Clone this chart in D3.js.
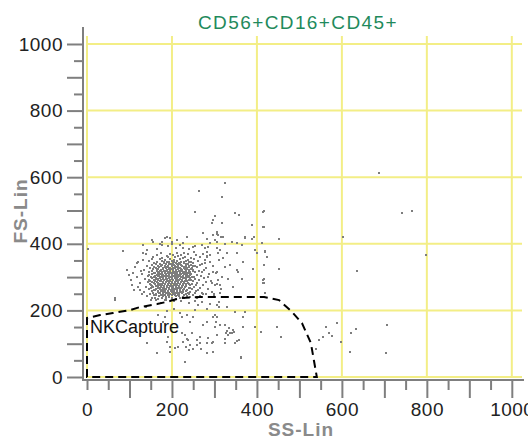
<!DOCTYPE html>
<html>
<head>
<meta charset="utf-8">
<script src="https://cdn.jsdelivr.net/npm/d3@7"></script>
<style>
  body { margin: 0; background: #ffffff; }
  svg { display: block; }
</style>
</head>
<body>
<div id="idChart"></div>
<script>
// ---- data (SS-Lin, FS-Lin channel values) ----
let chart_title = "CD56+CD16+CD45+";
let x_title = "SS-Lin";
let y_title = "FS-Lin";
let gate_name = "NKCapture";

let axis_max = 1024;
let label_ticks = [0, 200, 400, 600, 800, 1000];
let all_ticks = [0, 50, 100, 150, 200, 250, 300, 350, 400, 450, 500,
                 550, 600, 650, 700, 750, 800, 850, 900, 950, 1000];

// dense lymphocyte-like cluster
let core_events = [
  [175,372],[196,370],[213,373],[229,371],[251,374],[274,370],
  [164,366],[188,364],[203,367],[221,365],[237,368],[256,366],[283,363],
  [156,360],[177,358],[191,361],[208,359],[215,362],[230,360],[244,357],[265,361],
  [153,353],[171,355],[183,352],[196,354],[204,351],[219,353],[226,356],[238,352],[253,354],[277,351],
  [145,347],[165,345],[176,348],[188,346],[199,349],[211,347],[222,345],[233,348],[244,346],[262,349],[290,345],
  [158,341],[171,339],[181,342],[193,340],[202,343],[209,341],[218,339],[229,342],[238,340],[249,343],[271,339],
  [141,334],[153,336],[166,333],[175,335],[184,332],[191,334],[199,337],[207,333],[215,335],[224,332],[232,336],[241,334],[254,332],[266,335],[297,333],
  [149,328],[162,326],[170,329],[179,327],[187,330],[195,328],[203,326],[211,329],[218,327],[228,330],[236,328],[246,326],[259,329],[281,327],
  [135,321],[156,323],[165,320],[174,322],[182,319],[189,321],[196,324],[203,320],[210,322],[217,319],[224,321],[231,323],[239,320],[250,322],[263,319],[276,321],
  [146,315],[160,313],[169,316],[177,314],[185,317],[192,315],[199,313],[206,316],[213,314],[221,317],[228,315],[235,313],[243,316],[255,314],[270,316],[304,313],
  [129,308],[152,310],[164,307],[172,309],[180,306],[187,308],[194,311],[201,307],[208,309],[215,306],[222,308],[229,310],[236,307],[245,309],[258,306],[287,308],
  [143,302],[158,300],[167,303],[175,301],[183,304],[190,302],[197,300],[204,303],[211,301],[218,304],[225,302],[232,300],[240,303],[251,301],[268,303],
  [137,295],[154,297],[163,294],[171,296],[178,293],[185,295],[192,298],[199,294],[206,296],[213,293],[220,295],[227,297],[234,294],[242,296],[254,293],[275,296],
  [149,289],[160,287],[168,290],[175,288],[182,291],[189,289],[196,287],[203,290],[210,288],[217,291],[224,289],[231,287],[239,290],[249,288],[263,291],[293,288],
  [125,282],[144,284],[157,281],[166,283],[173,280],[180,282],[187,285],[194,281],[201,283],[208,280],[215,282],[222,284],[229,281],[237,283],[246,280],[260,282],[280,284],
  [151,276],[162,274],[170,277],[177,275],[184,278],[191,276],[198,274],[205,277],[212,275],[219,278],[226,276],[234,274],[243,277],[256,275],[272,277],
  [140,269],[156,271],[166,268],[174,270],[181,267],[188,269],[195,272],[202,268],[209,270],[216,267],[223,269],[230,271],[239,268],[252,270],[267,268],
  [147,263],[161,261],[171,264],[178,262],[185,265],[192,263],[199,261],[206,264],[213,262],[220,265],[228,263],[236,261],[247,264],[261,262],[285,264],
  [134,256],[154,258],[167,255],[175,257],[183,254],[190,256],[197,259],[204,255],[211,257],[218,254],[225,256],[233,258],[243,255],[257,257],
  [149,250],[163,248],[172,251],[180,249],[188,252],[195,250],[202,248],[209,251],[216,249],[224,252],[232,250],[241,248],[254,251],[273,249],
  [141,243],[158,245],[169,242],[178,244],[186,241],[194,243],[201,246],[209,242],[217,244],[225,241],[235,243],[249,245],[266,242],
  [153,237],[166,235],[176,238],[185,236],[193,239],[201,237],[210,235],[219,238],[229,236],[242,239],[260,237],
  [163,232],[183,231],[201,230],[222,229],[254,228]
];

// extra events in the solid centre of the cluster
let centre_events = [
  [181,345],[194,344],[205,346],[216,343],[228,345],[239,344],
  [162,338],[176,337],[187,339],[197,338],[205,336],[213,338],[221,337],[233,339],[244,337],
  [157,331],[174,332],[183,330],[191,331],[199,333],[207,331],[215,330],[223,332],[232,331],[241,330],[250,332],
  [166,325],[178,324],[186,326],[193,325],[200,324],[207,326],[214,325],[221,324],[228,326],[235,325],[244,324],
  [153,318],[165,317],[173,319],[181,318],[189,317],[196,319],[203,318],[210,317],[217,319],[224,318],[232,317],[240,318],[249,319],
  [157,312],[168,311],[176,313],[184,312],[191,311],[198,313],[205,312],[212,311],[219,313],[226,312],[233,311],[241,312],
  [147,305],[160,304],[169,306],[177,305],[185,304],[192,306],[199,305],[206,304],[213,306],[220,305],[227,304],[234,306],[243,305],
  [151,299],[163,298],[171,300],[179,299],[187,298],[194,300],[201,299],[208,298],[215,300],[222,299],[229,298],[237,300],[247,299],
  [145,292],[158,291],[167,293],[175,292],[182,291],[189,293],[196,292],[203,291],[210,293],[217,292],[224,291],[232,293],[245,292],
  [153,286],[164,285],[171,287],[179,286],[186,285],[193,287],[200,286],[207,285],[214,287],[221,286],[228,285],[236,287],
  [148,279],[160,278],[168,280],[176,279],[183,278],[190,280],[197,279],[204,278],[211,280],[218,279],[225,278],[233,280],[241,279],
  [154,273],[166,272],[174,274],[182,273],[189,272],[196,274],[203,273],[210,272],[217,274],[224,273],[232,272],
  [151,266],[163,265],[170,267],[178,266],[185,265],[192,267],[199,266],[206,265],[213,267],[221,266],[229,265],[242,266],
  [158,260],[168,259],[176,261],[184,260],[191,259],[198,261],[205,260],[212,259],[219,261],[227,260],
  [156,253],[169,252],[178,254],[186,253],[193,252],[200,254],[207,253],[214,252],[222,254],[237,253],
  [163,246],[174,247],[183,246],[191,247],[199,246],[207,247],[215,246],[228,247]
];

// sparser events around the cluster
let halo_events = [
  [112,330],[118,300],[103,290],[121,270],[130,250],[110,262],[126,318],[95,322],[132,352],[140,368],[120,345],
  [310,350],[318,300],[305,280],[325,330],[315,265],[300,250],[332,295],[290,365],[312,380],[285,390],[270,395],
  [160,238],[185,232],[260,240],[280,250],[300,245],
  [165,385],[190,392],[210,388],[240,385],[255,392],[200,400],[225,402],[172,398],
  [85,378],[66,237],[99,306],[108,312],[118,342],[106,276],[125,261],[132,372],[141,381],[155,405],
  [177,396],[184,417],[212,411],[219,396],[226,387],[235,420],[250,390],[2,384],[132,396],[153,411],[188,420],
  [297,426],[306,429],[315,420],[372,420],[393,420],[290,402],[306,405],[325,399],[365,396],
  [278,387],[282,375],[306,387],[308,372],[330,372],[353,372],[395,381],[400,372],[419,375],
  [282,360],[320,357],[367,345],[337,336],[391,324],[278,342],[297,315],[306,315],[353,321],[355,315],
  [285,300],[308,291],[365,294],[414,291],[414,282],[294,282],[301,276],[313,276],[344,270],
  [271,252],[294,255],[313,252],[271,225],
  [325,582],[264,558],[318,540],[254,495],[348,492],[358,486],[414,495],[301,483],[297,471],[294,462],
  [318,462],[388,456],[414,450],[273,432],[306,435],[308,426],[320,420],[282,414],[301,411],[341,405],
  [353,402],[372,417],[388,414],[412,402],[195,417],[200,405],[177,405],
  [417,498],[417,450],[417,336],[417,294],[417,282],[419,252],[419,378],[424,360],[452,324],[452,414],
  [603,420],[636,318],[687,612],[742,492],[765,498],[798,366]
];

// events in the lower (gated) region
let low_events = [
  [150,230],[175,222],[205,228],[240,222],[262,215],[290,218],[310,225],[330,210],[205,205],[255,200],[188,198],[140,210],
  [167,186],[184,180],[219,192],[224,180],[235,186],[250,180],[242,165],[179,165],[141,102],[165,72],
  [195,90],[195,75],[224,132],[231,126],[235,114],[226,105],[242,96],[233,90],[214,90],[188,105],
  [231,45],[250,84],[259,111],[247,132],[66,231],[344,141],[363,57],
  [306,216],[311,210],[282,204],[348,195],[372,195],[301,186],[297,180],[306,180],[367,180],
  [273,156],[282,165],[304,165],[301,150],[313,156],[325,156],[367,150],[395,150],[410,135],
  [447,150],[457,120],[330,138],[337,132],[341,132],[332,126],[306,126],[297,105],[282,102],
  [294,102],[325,114],[325,102],[348,102],[266,102],[268,84],[297,75],[282,72],[363,60],[266,120],[353,108],
  [563,150],[588,162],[633,144],[621,132],[570,132],[577,123],[556,120],[546,111],[598,105],
  [539,84],[619,75],[706,156],[704,72],
  [327,132],[334,147],[346,135],[358,111],[285,117],[259,96],[238,111],[240,81],[190,120],[207,87]
];

// NKCapture gate outline
let gate_vertices = [
  [0,0],[0,177],[31,186],[61,192],[101,201],[125,210],[165,219],[195,228],[219,237],
  [266,240],[417,240],[452,231],[483,195],[506,162],[527,102],[534,51],[541,0]
];
let gate_label_at = [7, 132];

// ---- drawing ----
let font_name = "'Liberation Sans', Arial, sans-serif";
let grid_color = "#f3ee86";
let axis_color = "#7f7f7f";
let dot_color = "#7d7d7d";

let svg_obj = d3.select("#idChart")
                .append("svg")
                  .attr("width", 528)
                  .attr("height", 439)
                  .attr("xmlns", "http://www.w3.org/2000/svg");

let x_scale = d3.scaleLinear().domain([0, axis_max]).range([87, 522]);
let y_scale = d3.scaleLinear().domain([0, axis_max]).range([377, 36]);

// grid
svg_obj.append("g")
  .selectAll("line")
  .data(label_ticks)
  .join("line")
    .attr("x1", d => x_scale(d))
    .attr("x2", d => x_scale(d))
    .attr("y1", y_scale(axis_max))
    .attr("y2", y_scale(0))
    .attr("stroke", grid_color)
    .attr("stroke-width", 2);

svg_obj.append("g")
  .selectAll("line")
  .data(label_ticks)
  .join("line")
    .attr("x1", x_scale(0))
    .attr("x2", x_scale(axis_max))
    .attr("y1", d => y_scale(d))
    .attr("y2", d => y_scale(d))
    .attr("stroke", grid_color)
    .attr("stroke-width", 2);

// events
let all_events = core_events.concat(centre_events, halo_events, low_events);
svg_obj.append("g")
  .selectAll("rect")
  .data(all_events)
  .join("rect")
    .attr("x", d => Math.round(x_scale(d[0])) - 1)
    .attr("y", d => Math.round(y_scale(d[1])) - 1)
    .attr("width", 2)
    .attr("height", 2)
    .attr("fill", dot_color);

// gate
let gate_line = d3.line()
                  .x(d => x_scale(d[0]))
                  .y(d => y_scale(d[1]));
svg_obj.append("path")
  .attr("d", gate_line(gate_vertices) + "Z")
  .attr("fill", "none")
  .attr("stroke", "#000")
  .attr("stroke-width", 2)
  .attr("stroke-dasharray", "8,5");

svg_obj.append("text")
  .attr("x", x_scale(gate_label_at[0]))
  .attr("y", y_scale(gate_label_at[1]))
  .attr("font-family", font_name)
  .attr("font-size", "18px")
  .attr("fill", "#111")
  .text(gate_name);

// y axis
let y_axis = d3.axisLeft(y_scale)
               .tickValues(all_ticks)
               .tickFormat(d => label_ticks.includes(d) ? d : "")
               .tickSize(9)
               .tickPadding(11);
let gy = svg_obj.append("g")
  .attr("transform", "translate(83,0)")
  .call(y_axis);
gy.select(".domain").remove();
gy.selectAll(".tick line")
  .attr("x2", d => d % 100 === 0 ? -16 : -9)
  .attr("stroke", axis_color)
  .attr("stroke-width", 2);
gy.selectAll(".tick text")
  .attr("font-family", font_name)
  .attr("font-size", "19px")
  .attr("letter-spacing", "0.5px")
  .attr("fill", "#222");

// x axis
let x_axis = d3.axisBottom(x_scale)
               .tickValues(all_ticks)
               .tickFormat(d => label_ticks.includes(d) ? d : "")
               .tickSize(10)
               .tickPadding(13);
let gx = svg_obj.append("g")
  .attr("transform", "translate(0,380)")
  .call(x_axis);
gx.select(".domain").remove();
gx.selectAll(".tick line")
  .attr("y2", d => (d % 100 === 0 && d > 0) ? 18 : 10)
  .attr("stroke", axis_color)
  .attr("stroke-width", 2);
gx.selectAll(".tick text")
  .attr("font-family", font_name)
  .attr("font-size", "19px")
  .attr("letter-spacing", "0.5px")
  .attr("fill", "#222");

// axis lines
svg_obj.append("line")
  .attr("x1", 83).attr("x2", 83)
  .attr("y1", 27).attr("y2", 381)
  .attr("stroke", axis_color)
  .attr("stroke-width", 2);
svg_obj.append("line")
  .attr("x1", 82).attr("x2", 524)
  .attr("y1", 380).attr("y2", 380)
  .attr("stroke", axis_color)
  .attr("stroke-width", 2);

// titles
svg_obj.append("text")
  .attr("x", 298)
  .attr("y", 29)
  .attr("text-anchor", "middle")
  .attr("font-family", font_name)
  .attr("font-size", "19px")
  .attr("letter-spacing", "1.4px")
  .attr("fill", "#1f8a5c")
  .text(chart_title);

svg_obj.append("text")
  .attr("x", 301)
  .attr("y", 436)
  .attr("text-anchor", "middle")
  .attr("font-family", font_name)
  .attr("font-size", "19px")
  .attr("font-weight", "bold")
  .attr("letter-spacing", "1px")
  .attr("fill", "#8a8a8a")
  .text(x_title);

svg_obj.append("text")
  .attr("transform", "translate(27,211) rotate(-90)")
  .attr("text-anchor", "middle")
  .attr("font-family", font_name)
  .attr("font-size", "19px")
  .attr("font-weight", "bold")
  .attr("letter-spacing", "1px")
  .attr("fill", "#8a8a8a")
  .text(y_title);
</script>
</body>
</html>
